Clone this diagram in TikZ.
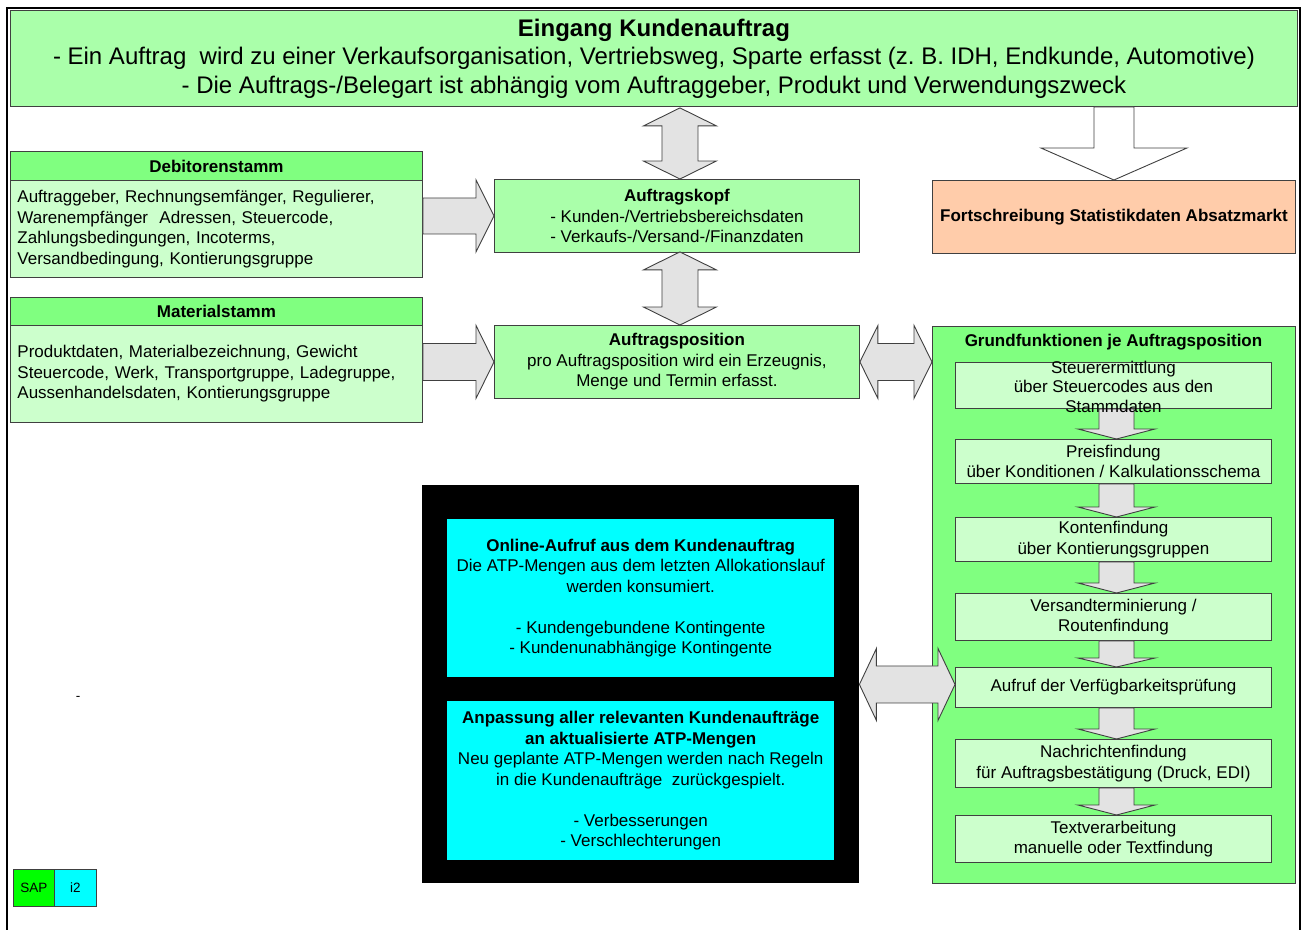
\documentclass[tikz,border=0pt]{standalone}
\usepackage{fontspec}
\setmainfont{Liberation Sans}
\usetikzlibrary{calc}
\frenchspacing

\definecolor{topgreen}{HTML}{AAFFAA}
\definecolor{hdrgreen}{HTML}{80FF80}
\definecolor{palegreen}{HTML}{CCFFCC}
\definecolor{peach}{HTML}{FFCCAA}
\definecolor{arrowgray}{HTML}{E3E3E3}
\definecolor{edgegray}{HTML}{404040}
\definecolor{atpcyan}{HTML}{00FFFF}
\definecolor{sapgreen}{HTML}{00FF00}

\tikzset{
  every node/.style={font=\fontsize{17}{20.5}\selectfont},
  boldtext/.style={font=\fontsize{17}{20.5}\selectfont\bfseries},
  box/.style={draw=edgegray, line width=0.9pt, inner sep=0pt, anchor=north west, align=center},
  bodybox/.style={box, fill=palegreen, align=left, inner xsep=7pt, text width=398pt},
  innerbox/.style={box, fill=palegreen, minimum width=316pt},
  blockarrow/.style={draw=edgegray, line width=0.9pt, fill=arrowgray, line join=miter},
}

% vertical double block arrow: #1 upper tip, #2 lower tip
\newcommand\vdblarrow[5]{%
  \filldraw[blockarrow] let \p1=(#1), \p2=(#2) in
    (\x1,\y1) -- (\x1+#4,\y1-#5) -- (\x1+#3,\y1-#5) -- (\x1+#3,\y2+#5) -- (\x1+#4,\y2+#5)
    -- (\x1,\y2) -- (\x1-#4,\y2+#5) -- (\x1-#3,\y2+#5) -- (\x1-#3,\y1-#5) -- (\x1-#4,\y1-#5) -- cycle;}
% horizontal double block arrow: #1 left tip, #2 right tip
\newcommand\hdblarrow[5]{%
  \filldraw[blockarrow] let \p1=(#1), \p2=(#2) in
    (\x1,\y1) -- (\x1+#5,\y1+#4) -- (\x1+#5,\y1+#3) -- (\x2-#5,\y1+#3) -- (\x2-#5,\y1+#4)
    -- (\x2,\y1) -- (\x2-#5,\y1-#4) -- (\x2-#5,\y1-#3) -- (\x1+#5,\y1-#3) -- (\x1+#5,\y1-#4) -- cycle;}
% horizontal single block arrow: #1 tail, #2 tip
\newcommand\hsglarrow[5]{%
  \filldraw[blockarrow] let \p1=(#1), \p2=(#2) in
    (\x1,\y1+#3) -- (\x2-#5,\y1+#3) -- (\x2-#5,\y1+#4) -- (\x2,\y1)
    -- (\x2-#5,\y1-#4) -- (\x2-#5,\y1-#3) -- (\x1,\y1-#3) -- cycle;}
% downward single block arrow: #2 tail, #3 tip
\newcommand\vsglarrow[6][]{%
  \filldraw[blockarrow,#1] let \p1=(#2), \p2=(#3) in
    (\x1-#4,\y1) -- (\x1+#4,\y1) -- (\x1+#4,\y2+#6) -- (\x1+#5,\y2+#6) -- (\x1,\y2)
    -- (\x1-#5,\y2+#6) -- (\x1-#4,\y2+#6) -- cycle;}

\begin{document}
\begin{tikzpicture}[x=1pt,y=-1pt]
\useasboundingbox (0,0) rectangle (1303,929);

% outer frame
\draw[line width=2pt] (6.5,940) -- (6.5,7.5) -- (1300,7.5) -- (1300,940);

% order entry
\node[box, fill=topgreen, minimum width=1287pt, minimum height=96pt,
      font=\fontsize{24}{28.5}\selectfont] (top) at (10,10)
  {{\bfseries Eingang Kundenauftrag}\\
   - Ein Auftrag\ \ wird zu einer Verkaufsorganisation, Vertriebsweg, Sparte erfasst (z. B. IDH, Endkunde, Automotive)\\
   - Die Auftrags-/Belegart ist abhängig vom Auftraggeber, Produkt und Verwendungszweck};

% master data
\node[box, boldtext, fill=hdrgreen, minimum width=412pt, minimum height=29pt] (debhdr) at (10,151) {Debitorenstamm};
\node[bodybox, minimum height=97pt] (debbody) at (10,180)
  {Auftraggeber, Rechnungsemfänger, Regulierer,\\
   Warenempfänger\ \ Adressen, Steuercode,\\
   Zahlungsbedingungen, Incoterms,\\
   Versandbedingung, Kontierungsgruppe};
\node[box, boldtext, fill=hdrgreen, minimum width=412pt, minimum height=28pt] (mathdr) at (10,297) {Materialstamm};
\node[bodybox, minimum height=97pt] (matbody) at (10,325)
  {Produktdaten, Materialbezeichnung, Gewicht\\
   Steuercode, Werk, Transportgruppe, Ladegruppe,\\
   Aussenhandelsdaten, Kontierungsgruppe};

% order header and item
\node[box, fill=topgreen, minimum width=365pt, minimum height=73pt] (kopf) at (494,179)
  {\textbf{Auftragskopf}\\- Kunden-/Vertriebsbereichsdaten\\- Verkaufs-/Versand-/Finanzdaten};
\node[box, fill=topgreen, minimum width=365pt, minimum height=73pt] (pos) at (494,325)
  {\textbf{Auftragsposition}\\pro Auftragsposition wird ein Erzeugnis,\\Menge und Termin erfasst.};

% statistics
\node[box, boldtext, fill=peach, minimum width=363pt, minimum height=73pt] (stat) at (932,180)
  {Fortschreibung Statistikdaten Absatzmarkt};

% basic functions per item
\node[box, fill=hdrgreen, minimum width=363pt, minimum height=557pt] (grund) at (932,326) {};
\node[boldtext, inner sep=0pt] (grundtitle) at (1113.5,342) {Grundfunktionen je Auftragsposition};
\node[innerbox, minimum height=46pt] (b1) at (955,362) {};
\node[innerbox, minimum height=44pt] (b2) at (955,439) {Preisfindung\\über Konditionen / Kalkulationsschema};
\node[innerbox, minimum height=44pt] (b3) at (955,517) {Kontenfindung\\über Kontierungsgruppen};
\node[innerbox, minimum height=47pt] (b4) at (955,593) {Versandterminierung /\\Routenfindung};
\node[innerbox, minimum height=40pt] (b5) at (955,667) {Aufruf der Verfügbarkeitsprüfung};
\node[innerbox, minimum height=48pt] (b6) at (955,739) {Nachrichtenfindung\\für Auftragsbestätigung (Druck, EDI)};
\node[innerbox, minimum height=47pt] (b7) at (955,815) {Textverarbeitung\\manuelle oder Textfindung};

% ATP panel
\node[anchor=north west, fill=black, inner sep=0pt, minimum width=437pt, minimum height=398pt] (atp) at (422,485) {};
\node[anchor=north west, fill=atpcyan, inner sep=0pt, minimum width=387pt, minimum height=158pt, align=center] (online) at (447,519)
  {\textbf{Online-Aufruf aus dem Kundenauftrag}\\
   Die ATP-Mengen aus dem letzten Allokationslauf\\
   werden konsumiert.\\[20.5pt]
   - Kundengebundene Kontingente\\
   - Kundenunabhängige Kontingente};
\node[anchor=north west, fill=atpcyan, inner sep=0pt, minimum width=387pt, minimum height=159pt, align=center] (anpass) at (447,701)
  {\textbf{Anpassung aller relevanten Kundenaufträge}\\
   \textbf{an aktualisierte ATP-Mengen}\\
   Neu geplante ATP-Mengen werden nach Regeln\\
   in die Kundenaufträge\ \ zurückgespielt.\\[20.5pt]
   - Verbesserungen\\
   - Verschlechterungen};

% legend
\node[box, fill=sapgreen, minimum width=41pt, minimum height=37pt, font=\fontsize{13.5}{15}\selectfont] (sap) at (13,869) {SAP};
\node[box, fill=atpcyan, minimum width=42pt, minimum height=37pt, font=\fontsize{13.5}{15}\selectfont] (itwo) at (54,869) {i2};
\node[font=\fontsize{13.5}{15}\selectfont, inner sep=0pt] (dash) at (78,698) {-};

% connectors
\vdblarrow{$(kopf.north |- top.south)+(3,1)$}{$(kopf.north)+(3,0)$}{18pt}{36.5pt}{18pt}
\vdblarrow{$(kopf.south)+(3,-1)$}{$(pos.north)+(3,0)$}{18pt}{36.5pt}{18pt}
\hsglarrow{$(debbody.east |- kopf.west)$}{kopf.west}{18pt}{36pt}{18pt}
\hsglarrow{$(matbody.east |- pos.west)$}{pos.west}{18.5pt}{36.5pt}{18pt}
\hdblarrow{pos.east}{$(pos.east -| grund.west)$}{18.5pt}{36.5pt}{18pt}
\hdblarrow{$(atp.east |- b5.west)+(0,-3)$}{$(b5.west)+(0,-3)$}{18.5pt}{36pt}{17pt}
\vsglarrow[fill=white]{$(stat.north |- top.south)$}{stat.north}{20pt}{73pt}{32pt}
\vsglarrow{$(b1.south)+(3,0)$}{$(b2.north)+(3,0)$}{17.5pt}{38.5pt}{10pt}
\vsglarrow{$(b2.south)+(3,0)$}{$(b3.north)+(3,0)$}{17.5pt}{38.5pt}{10pt}
\vsglarrow{$(b3.south)+(3,0)$}{$(b4.north)+(3,0)$}{17.5pt}{38.5pt}{10pt}
\vsglarrow{$(b4.south)+(3,0)$}{$(b5.north)+(3,0)$}{17.5pt}{38.5pt}{9pt}
\vsglarrow{$(b5.south)+(3,0)$}{$(b6.north)+(3,0)$}{17.5pt}{38.5pt}{10pt}
\vsglarrow{$(b6.south)+(3,0)$}{$(b7.north)+(3,0)$}{17.5pt}{38.5pt}{10pt}

% tax determination text runs over its box edges
\node[align=center, inner sep=0pt, font=\fontsize{17}{19.5}\selectfont] (b1text) at ($(b1.center)+(0,1)$)
  {Steuerermittlung\\über Steuercodes aus den\\Stammdaten};
\end{tikzpicture}
\end{document}
